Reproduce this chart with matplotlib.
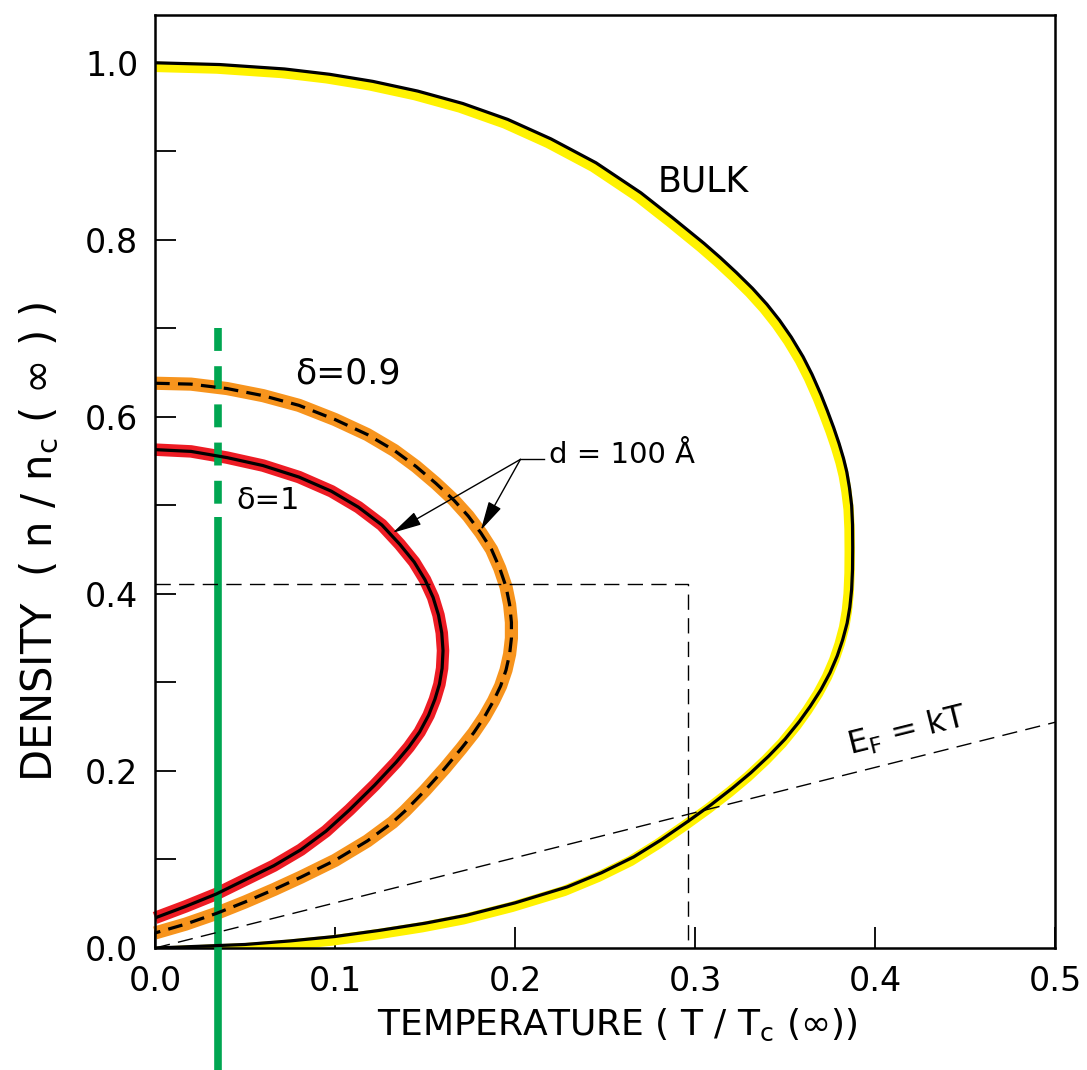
import matplotlib
matplotlib.use("Agg")
import matplotlib.pyplot as plt
from matplotlib.ticker import MultipleLocator, FormatStrFormatter
from matplotlib.transforms import ScaledTranslation

# ---------------- data ----------------
bulk_T = [0.000, 0.036, 0.072, 0.097, 0.121, 0.146, 0.171, 0.196, 0.220, 0.245,
          0.270, 0.2875, 0.305, 0.314, 0.323, 0.332, 0.340, 0.347, 0.3535, 0.360,
          0.365, 0.370, 0.3735, 0.377, 0.380, 0.3825, 0.3843, 0.3858, 0.387, 0.3875,
          0.3876, 0.3875, 0.387, 0.386, 0.3845, 0.382, 0.379, 0.375, 0.370, 0.364,
          0.358, 0.350, 0.341, 0.331, 0.321, 0.309, 0.296, 0.281, 0.266, 0.248,
          0.229, 0.200, 0.173, 0.150, 0.125, 0.100, 0.075, 0.050, 0.025, 0.000]
bulk_n = [1.000, 0.998, 0.993, 0.987, 0.979, 0.968, 0.954, 0.936, 0.914, 0.887,
          0.853, 0.825, 0.796, 0.780, 0.763, 0.745, 0.727, 0.709, 0.690, 0.668,
          0.648, 0.625, 0.607, 0.588, 0.570, 0.553, 0.538, 0.520, 0.500, 0.478,
          0.452, 0.428, 0.405, 0.385, 0.367, 0.348, 0.330, 0.311, 0.292, 0.273,
          0.256, 0.236, 0.217, 0.198, 0.181, 0.162, 0.143, 0.122, 0.103, 0.085,
          0.069, 0.051, 0.037, 0.028, 0.020, 0.013, 0.008, 0.004, 0.002, 0.000]

d1_T = [0.000, 0.020, 0.040, 0.060, 0.080, 0.098, 0.113, 0.126, 0.136, 0.144,
        0.150, 0.1545, 0.1575, 0.1593, 0.160, 0.1595, 0.158, 0.1555, 0.152, 0.147,
        0.141, 0.134, 0.122, 0.108, 0.095, 0.081, 0.066, 0.050, 0.034, 0.017, 0.000]
d1_n = [0.563, 0.561, 0.554, 0.545, 0.532, 0.516, 0.498, 0.478, 0.456, 0.436,
        0.416, 0.396, 0.376, 0.356, 0.336, 0.316, 0.298, 0.281, 0.263, 0.244,
        0.227, 0.210, 0.184, 0.156, 0.132, 0.111, 0.093, 0.077, 0.061, 0.047, 0.034]

d09_T = [0.000, 0.020, 0.040, 0.060, 0.080, 0.100, 0.118, 0.133, 0.145, 0.156,
         0.166, 0.174, 0.181, 0.187, 0.1915, 0.195, 0.197, 0.198, 0.198, 0.197,
         0.195, 0.192, 0.188, 0.183, 0.177, 0.170, 0.161, 0.150, 0.139, 0.132,
         0.118, 0.100, 0.081, 0.066, 0.050, 0.034, 0.017, 0.000]
d09_n = [0.638, 0.637, 0.632, 0.624, 0.613, 0.597, 0.580, 0.562, 0.544, 0.525,
         0.506, 0.488, 0.469, 0.450, 0.429, 0.408, 0.388, 0.368, 0.350, 0.332,
         0.314, 0.296, 0.279, 0.261, 0.243, 0.225, 0.203, 0.178, 0.155, 0.142,
         0.121, 0.099, 0.080, 0.066, 0.052, 0.039, 0.027, 0.017]

ef_T = [0.0, 0.5]
ef_n = [0.0, 0.255]

box_T = [0.0, 0.296, 0.296]
box_n = [0.411, 0.411, 0.0]

green_T = 0.035
green_dash_n = [0.700, 0.487]
green_solid_n = [0.487, -0.14]

x_ticks = [0.0, 0.1, 0.2, 0.3, 0.4, 0.5]
y_ticks = [0.0, 0.2, 0.4, 0.6, 0.8, 1.0]

YELLOW = "#fff200"
RED = "#ed1c24"
ORANGE = "#f7941d"
GREEN = "#00a651"

plt.rcParams['font.family'] = ['DejaVu Sans']

fig = plt.figure(figsize=(10.87, 10.70), dpi=100)
ax = fig.add_axes([0.1426, 0.114, 0.8280, 0.872])
ax.set_xlim(0, 0.5)
ax.set_ylim(0, 1.054)

# highlight bands
yoff = ax.transData + ScaledTranslation(-0.03, -0.04, fig.dpi_scale_trans)
ax.plot(bulk_T, bulk_n, color=YELLOW, lw=7.5, solid_capstyle='butt',
        solid_joinstyle='round', transform=yoff, zorder=2)
ax.plot(d1_T, d1_n, color=RED, lw=9, solid_capstyle='butt',
        solid_joinstyle='round', zorder=2, clip_on=False)
ax.plot(d09_T, d09_n, color=ORANGE, lw=9.5, solid_capstyle='butt',
        solid_joinstyle='round', zorder=2, clip_on=False)

# green marker line
ax.plot([green_T, green_T], green_dash_n, color=GREEN, lw=5.5,
        linestyle=(0, (3.0, 2.0)), dash_capstyle='butt', zorder=3, clip_on=False)
ax.plot([green_T, green_T], green_solid_n, color=GREEN, lw=5.5,
        solid_capstyle='butt', zorder=3, clip_on=False)

# black curves
ax.plot(bulk_T, bulk_n, color='black', lw=2.3, solid_joinstyle='round', zorder=4)
ax.plot(d1_T, d1_n, color='black', lw=2.3, solid_joinstyle='round', zorder=4)
ax.plot(d09_T, d09_n, color='black', lw=2.3, linestyle=(0, (4.6, 2.6)),
        dash_capstyle='butt', zorder=4)

# thin dashed lines
ax.plot(ef_T, ef_n, color='black', lw=1.0, linestyle=(0, (11, 6)), zorder=3)
ax.plot(box_T, box_n, color='black', lw=1.0, linestyle=(0, (11, 6)), zorder=3)

# labels in plot
ax.text(0.279, 0.866, "BULK", fontsize=25, ha='left', va='center')
ax.text(0.107, 0.649, "δ=0.9", fontsize=25, ha='center', va='center')
ax.text(0.063, 0.506, "δ=1", fontsize=22, ha='center', va='center')
ax.text(0.219, 0.557, "d = 100 Å", fontsize=21, ha='left', va='center')
ax.text(0.418, 0.245, r"E$_\mathrm{F}$ = kT", fontsize=23, ha='center', va='center',
        rotation=14)

# arrows for d = 100 Å
ax.plot([0.203, 0.216], [0.552, 0.552], color='black', lw=1.0, zorder=5)
arrow_kw = dict(arrowstyle='-|>,head_length=0.9,head_width=0.22', color='black',
                lw=1.0, shrinkA=0, shrinkB=0, mutation_scale=20)
ax.annotate('', xy=(0.132, 0.469), xytext=(0.203, 0.552), arrowprops=arrow_kw, zorder=5)
ax.annotate('', xy=(0.181, 0.472), xytext=(0.203, 0.552), arrowprops=arrow_kw, zorder=5)

# axes styling
for s in ax.spines.values():
    s.set_linewidth(1.8)
ax.yaxis.set_minor_locator(MultipleLocator(0.1))
ax.set_xticks(x_ticks)
ax.set_yticks(y_ticks)
ax.xaxis.set_major_formatter(FormatStrFormatter('%.1f'))
ax.yaxis.set_major_formatter(FormatStrFormatter('%.1f'))
ax.tick_params(axis='both', which='both', direction='in', length=15, width=1.3,
               labelsize=24, colors='black')
ax.tick_params(axis='x', pad=12)
ax.tick_params(axis='y', pad=12)

ax.set_xlabel(r"TEMPERATURE ( T / T$_\mathrm{c}$ ($\infty$))", fontsize=26, va='center')
ax.xaxis.set_label_coords(0.514, -0.082)
ax.set_ylabel(r"DENSITY  ( n / n$_\mathrm{c}$ ( $\infty$ ) )", fontsize=30, va='center')
ax.yaxis.set_label_coords(-0.128, 0.435)

fig.savefig("out.png", dpi=100)
